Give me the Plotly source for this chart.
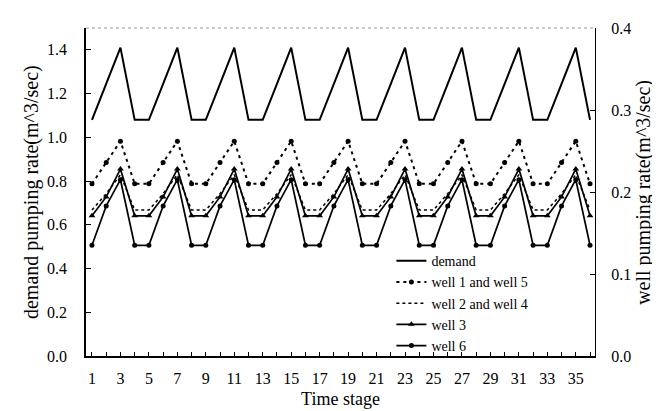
import plotly.graph_objects as go

stages = [1, 2, 3, 4, 5, 6, 7, 8, 9, 10, 11, 12, 13, 14, 15, 16, 17, 18,
          19, 20, 21, 22, 23, 24, 25, 26, 27, 28, 29, 30, 31, 32, 33, 34, 35, 36]

demand = [1.08, 1.245, 1.41, 1.08, 1.08, 1.245, 1.41, 1.08, 1.08, 1.245, 1.41, 1.08,
          1.08, 1.245, 1.41, 1.08, 1.08, 1.245, 1.41, 1.08, 1.08, 1.245, 1.41, 1.08,
          1.08, 1.245, 1.41, 1.08, 1.08, 1.245, 1.41, 1.08, 1.08, 1.245, 1.41, 1.08]

well_1_5 = [0.21, 0.236, 0.262, 0.21, 0.21, 0.236, 0.262, 0.21, 0.21, 0.236, 0.262, 0.21,
            0.21, 0.236, 0.262, 0.21, 0.21, 0.236, 0.262, 0.21, 0.21, 0.236, 0.262, 0.21,
            0.21, 0.236, 0.262, 0.21, 0.21, 0.236, 0.262, 0.21, 0.21, 0.236, 0.262, 0.21]

well_2_4 = [0.178, 0.198, 0.221, 0.178, 0.178, 0.198, 0.221, 0.178, 0.178, 0.198, 0.221, 0.178,
            0.178, 0.198, 0.221, 0.178, 0.178, 0.198, 0.221, 0.178, 0.178, 0.198, 0.221, 0.178,
            0.178, 0.198, 0.221, 0.178, 0.178, 0.198, 0.221, 0.178, 0.178, 0.198, 0.221, 0.178]

well_3 = [0.171, 0.194, 0.228, 0.171, 0.171, 0.194, 0.228, 0.171, 0.171, 0.194, 0.228, 0.171,
          0.171, 0.194, 0.228, 0.171, 0.171, 0.194, 0.228, 0.171, 0.171, 0.194, 0.228, 0.171,
          0.171, 0.194, 0.228, 0.171, 0.171, 0.194, 0.228, 0.171, 0.171, 0.194, 0.228, 0.171]

well_6 = [0.135, 0.183, 0.215, 0.135, 0.135, 0.183, 0.215, 0.135, 0.135, 0.183, 0.215, 0.135,
          0.135, 0.183, 0.215, 0.135, 0.135, 0.183, 0.215, 0.135, 0.135, 0.183, 0.215, 0.135,
          0.135, 0.183, 0.215, 0.135, 0.135, 0.183, 0.215, 0.135, 0.135, 0.183, 0.215, 0.135]

x_tick_vals = [1, 3, 5, 7, 9, 11, 13, 15, 17, 19, 21, 23, 25, 27, 29, 31, 33, 35]
x_tick_text = ["1", "3", "5", "7", "9", "11", "13", "15", "17", "19", "21", "23",
               "25", "27", "29", "31", "33", "35"]
left_ticks = [0.0, 0.2, 0.4, 0.6, 0.8, 1.0, 1.2, 1.4]
right_ticks = [0.0, 0.1, 0.2, 0.3, 0.4]

left_title = "demand pumping rate(m^3/sec)"
right_title = "well pumping rate(m^3/sec)"
x_title = "Time stage"

FONT = "Liberation Serif"

fig = go.Figure()
fig.add_trace(go.Scatter(x=stages, y=demand, name="demand", mode="lines",
                         line=dict(color="black", width=2), yaxis="y"))
fig.add_trace(go.Scatter(x=stages, y=well_1_5, name="well 1 and well 5", mode="lines+markers",
                         line=dict(color="black", width=2, dash="3px,4px"),
                         marker=dict(symbol="circle", size=5, color="black"), yaxis="y2"))
fig.add_trace(go.Scatter(x=stages, y=well_2_4, name="well 2 and well 4", mode="lines",
                         line=dict(color="black", width=1.5, dash="3px,3px"), yaxis="y2"))
fig.add_trace(go.Scatter(x=stages, y=well_3, name="well 3", mode="lines+markers",
                         line=dict(color="black", width=1.7),
                         marker=dict(symbol="triangle-up", size=6, color="black"), yaxis="y2"))
fig.add_trace(go.Scatter(x=stages, y=well_6, name="well 6", mode="lines+markers",
                         line=dict(color="black", width=1.7),
                         marker=dict(symbol="circle", size=5, color="black"), yaxis="y2"))

fig.update_layout(
    width=660, height=411,
    margin=dict(l=78, r=73, t=17, b=63),
    plot_bgcolor="white", paper_bgcolor="white",
    font=dict(family=FONT, color="black", size=16),
    showlegend=True,
    legend=dict(x=0.60, y=0.338, xanchor="left", yanchor="top",
                bgcolor="rgba(0,0,0,0)", font=dict(family=FONT, size=14, color="black"),
                tracegroupgap=0, itemwidth=30),
    xaxis=dict(range=[0.58, 36.35], tickmode="array", tickvals=x_tick_vals, ticktext=x_tick_text,
               ticks="inside", ticklen=4, tickcolor="black", showline=True, linecolor="black",
               linewidth=1.5, showgrid=False, zeroline=False, ticklabelstandoff=7,
               minor=dict(ticks="inside", ticklen=4, tickcolor="black", dtick=1, tick0=0, showgrid=False),
               title=dict(text=x_title, font=dict(size=18), standoff=6)),
    yaxis=dict(range=[0, 1.5], tickmode="array", tickvals=left_ticks,
               ticktext=[f"{v:.1f}" for v in left_ticks],
               ticks="inside", ticklen=5, tickcolor="black", showline=True, linecolor="black",
               linewidth=1.5, showgrid=False, zeroline=False, ticklabelstandoff=14),
    yaxis2=dict(range=[0, 0.4], tickmode="array", tickvals=right_ticks,
                ticktext=[f"{v:.1f}" for v in right_ticks],
                overlaying="y", side="right",
                ticks="inside", ticklen=5, tickcolor="black", showline=True, linecolor="black",
                linewidth=1.2, showgrid=False, zeroline=False, ticklabelstandoff=12),
    annotations=[
        dict(text=left_title, textangle=-90, xref="paper", yref="paper",
             x=-0.108, y=0.5, xanchor="center", yanchor="middle", showarrow=False,
             font=dict(family=FONT, size=20, color="black")),
        dict(text=right_title, textangle=-90, xref="paper", yref="paper",
             x=1.094, y=0.5, xanchor="center", yanchor="middle", showarrow=False,
             font=dict(family=FONT, size=20, color="black")),
    ],
    shapes=[dict(type="line", xref="paper", yref="paper", x0=0, x1=1, y0=1, y1=1,
                 line=dict(color="#999999", width=1, dash="dot"))],
)

fig.write_html("out.html")
